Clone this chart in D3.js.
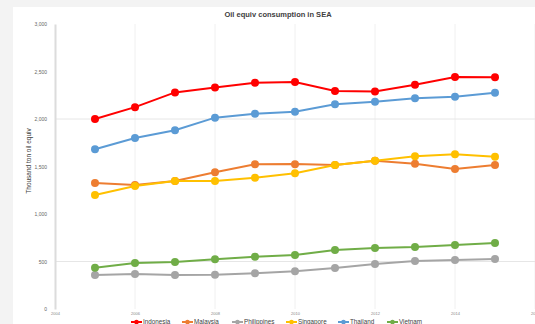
<!DOCTYPE html>
<html>
<head>
<meta charset="utf-8">
<script src="https://cdn.jsdelivr.net/npm/d3@7"></script>
<style>
  html, body { margin: 0; padding: 0; background: #f3f3f3; }
  svg { display: block; font-family: "Liberation Sans", Arial, sans-serif; }
</style>
</head>
<body>
<svg id="chart" width="535" height="324"></svg>
<script>
// Oil-equivalent consumption, thousand tonnes, South-East Asia
const years = [2005, 2006, 2007, 2008, 2009, 2010, 2011, 2012, 2013, 2014, 2015];
const countries = ["Indonesia", "Malaysia", "Philippines", "Singapore", "Thailand", "Vietnam"];
const indonesia   = [2000, 2125, 2280, 2332, 2382, 2389, 2295, 2290, 2360, 2442, 2440];
const malaysia    = [1326, 1305, 1347, 1439, 1523, 1525, 1516, 1561, 1529, 1474, 1516];
const philippines = [358, 368, 358, 361, 376, 397, 432, 474, 505, 516, 526];
const singapore   = [1200, 1295, 1347, 1347, 1382, 1428, 1516, 1561, 1607, 1628, 1603];
const thailand    = [1681, 1800, 1881, 2014, 2056, 2077, 2155, 2182, 2218, 2235, 2277];
const vietnam     = [435, 484, 495, 523, 551, 568, 621, 642, 653, 674, 695];
const yTicks = [0, 500, 1000, 1500, 2000, 2500, 3000];
const xTicks = [2004, 2006, 2008, 2010, 2012, 2014, 2016];
const colors = ["#ff0000", "#ed7d31", "#a5a5a5", "#ffc000", "#5b9bd5", "#70ad47"];

const seriesValues = [indonesia, malaysia, philippines, singapore, thailand, vietnam];
const series = countries.map((name, i) => ({
  name,
  color: colors[i],
  points: years.map((yr, j) => ({ year: yr, value: seriesValues[i][j] }))
}));

const svg = d3.select("#chart");

// white chart panel
svg.append("rect").attr("x", 13).attr("y", 7).attr("width", 540).attr("height", 330).attr("fill", "#ffffff");

const x = d3.scaleLinear().domain([2004, 2016]).range([55, 535]);
const y = d3.scaleLinear().domain([0, 3000]).range([309, 24]);

// vertical gridlines
svg.append("g").selectAll("line").data(xTicks.slice(1)).join("line")
  .attr("x1", d => x(d)).attr("x2", d => x(d))
  .attr("y1", y(3000)).attr("y2", y(0))
  .attr("stroke", "#f0f0f0").attr("stroke-width", 1);

// horizontal gridlines
svg.append("g").selectAll("line").data([500, 2000]).join("line")
  .attr("x1", x(2004)).attr("x2", 535)
  .attr("y1", d => y(d)).attr("y2", d => y(d))
  .attr("stroke", "#e6e6e6").attr("stroke-width", 1);

// y axis
const yAxis = svg.append("g").attr("transform", `translate(${x(2004)},0)`)
  .call(d3.axisLeft(y).tickValues(yTicks).tickSize(0).tickPadding(8).tickFormat(d3.format(",")));
yAxis.select(".domain").attr("stroke", "#dcdcdc").attr("stroke-width", 2);
yAxis.selectAll("text").attr("font-size", 5).attr("fill", "#666");

// x axis
const xAxis = svg.append("g").attr("transform", `translate(0,${y(0)})`)
  .call(d3.axisBottom(x).tickValues(xTicks).tickSize(0).tickPadding(3).tickFormat(d3.format("d")));
xAxis.select(".domain").remove();
xAxis.selectAll("text").attr("font-size", 4).attr("fill", "#888");

// title
svg.append("text").attr("x", 278).attr("y", 17).attr("text-anchor", "middle")
  .attr("font-size", 7.5).attr("fill", "#404040").attr("font-weight", "bold")
  .text("Oil equiv consumption in SEA");

// y-axis title
svg.append("text").attr("transform", "translate(31,161) rotate(-90)")
  .attr("text-anchor", "middle").attr("font-size", 6.5).attr("fill", "#404040")
  .text("Thousand ton oil equiv");

// series lines and markers
const line = d3.line().x(d => x(d.year)).y(d => y(d.value));
const gs = svg.append("g").selectAll("g").data(series).join("g");
gs.append("path").attr("d", d => line(d.points))
  .attr("fill", "none").attr("stroke", d => d.color).attr("stroke-width", 2);
gs.selectAll("circle").data(d => d.points.map(p => ({ ...p, color: d.color }))).join("circle")
  .attr("cx", d => x(d.year)).attr("cy", d => y(d.value)).attr("r", 4)
  .attr("fill", d => d.color);

// legend
const legendX = [131, 182, 232, 286, 338, 387];
const lg = svg.append("g").selectAll("g").data(series).join("g")
  .attr("transform", (d, i) => `translate(${legendX[i]},322)`);
lg.append("line").attr("x1", 0).attr("x2", 11).attr("y1", 0).attr("y2", 0)
  .attr("stroke", d => d.color).attr("stroke-width", 2);
lg.append("circle").attr("cx", 5.5).attr("cy", 0).attr("r", 2.3).attr("fill", d => d.color);
lg.append("text").attr("x", 12).attr("y", 2.2).attr("font-size", 6.3).attr("fill", "#404040")
  .text(d => d.name);
</script>
</body>
</html>
